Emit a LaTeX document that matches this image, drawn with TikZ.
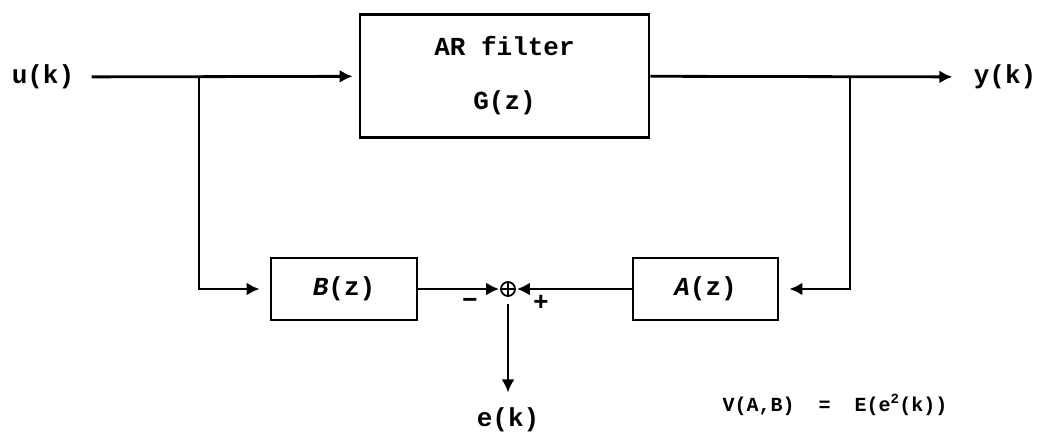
\documentclass[tikz,border=0pt]{standalone}
\usepackage{fontspec}
\setmonofont{Liberation Mono}
\usepackage{tikz}
\usetikzlibrary{arrows.meta, positioning, calc}

\begin{document}
\begin{tikzpicture}[x=1pt, y=-1pt, line width=2.8pt,
        blk/.style={draw, rectangle, inner sep=0pt, font=\ttfamily\bfseries\fontsize{26}{30}\selectfont},
        txt/.style={inner sep=0pt, font=\ttfamily\bfseries\fontsize{26}{30}\selectfont},
        sml/.style={inner sep=0pt, font=\ttfamily\bfseries\fontsize{20}{24}\selectfont},
        sig/.style={-{Latex[length=13pt, width=13pt]}}
      ]
      \useasboundingbox (0,0) rectangle (1043,435);
      \node[txt] (uk) at (43,77)   {u(k)};
      \node[txt] (yk) at (1005,77) {y(k)};
      \node[blk, minimum width=289pt, minimum height=123pt, align=center] (G) at (504.5,76) {AR filter\\[24pt]G(z)};
      \node[blk, minimum width=146pt, minimum height=62pt] (B) at (344,289) {\textit{B}(z)\hspace{10pt}};
      \node[blk, minimum width=145pt, minimum height=62pt] (A) at (705.5,289) {\textit{A}(z)\hspace{10pt}};
      \node[draw, circle, minimum size=14pt, inner sep=0pt, line width=1.8pt,
            path picture={\draw[line width=1.8pt] (path picture bounding box.north) -- (path picture bounding box.south)
                          (path picture bounding box.west) -- (path picture bounding box.east);}] (sum) at (508,289) {};
      \node[txt] (ek) at (508,420) {e(k)};
      \node[txt] (mn) at (470,303) {\char"2212};
      \node[txt] (pl) at (541,303) {+};
      \node[sml] (V) at (835,405) {V(A,B)~~=~~E(e\textsuperscript{2}(k))};
      \coordinate (bu) at (199,77);
      \coordinate (by) at (850,77);
      \draw[sig, shorten <=16pt, shorten >=6pt] (uk) -- (G);
      \draw[sig, shorten >=20pt] (G) -- (yk);
      \draw[sig, shorten >=10pt] (bu) |- (B);
      \draw[sig, shorten >=10pt] (by) |- (A);
      \draw[sig, shorten >=1pt] (B) -- (sum);
      \draw[sig, shorten >=1pt] (A) -- (sum);
      \draw[sig, shorten <=7pt, shorten >=14pt] (sum) -- (ek);
    \end{tikzpicture}
\end{document}
